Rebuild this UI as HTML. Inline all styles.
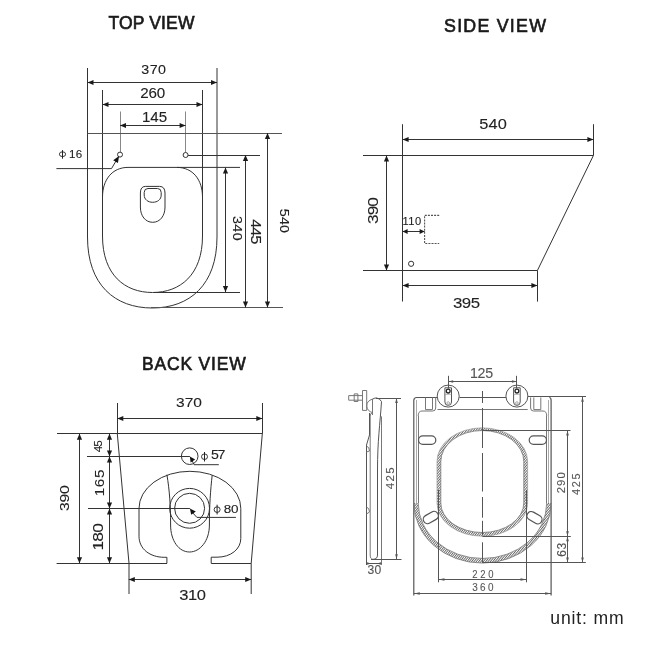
<!DOCTYPE html>
<html><head><meta charset="utf-8"><style>
html,body{margin:0;padding:0;background:#fff;}
svg{display:block;will-change:transform;}
</style></head><body>
<svg width="650" height="650" viewBox="0 0 650 650">
<rect width="650" height="650" fill="#fff"/>
<text transform="translate(151.5,28.8)" x="0" y="0" font-family="&quot;Liberation Sans&quot;, sans-serif" font-size="17.5" fill="#1a1a1a" stroke="#1a1a1a" stroke-width="0.65" text-anchor="middle" letter-spacing="0.15">TOP VIEW</text>
<path d="M87.5,68 L87.5,237 C87.5,285 115,308 152.25,308 C189.5,308 217,285 217,237 L217,68" stroke="#333" stroke-width="1" fill="none" />
<path d="M102.5,90 L102.5,236 C102.5,275 125,292.5 152.5,292.5 C180,292.5 202.5,275 202.5,236 L202.5,90" stroke="#333" stroke-width="1" fill="none" />
<path d="M102.5,197 C102.5,180 112,167.4 128,167.4 L240,167.4" stroke="#333" stroke-width="1" fill="none" />
<path d="M202.5,197 C202.5,180 193,167.4 177,167.4" stroke="#333" stroke-width="1" fill="none" />
<path d="M145.4,186.4 L159.6,186.4 Q165,186.4 165,193 L165,207 C165,216 160,222.3 152.7,222.3 C145.4,222.3 140.4,216 140.4,207 L140.4,193 Q140.4,186.4 145.4,186.4 Z" stroke="#333" stroke-width="1" fill="none" />
<path d="M148,188.5 L157.5,188.5 Q161.2,188.5 161.2,192.5 L161.2,195 C161.2,199.5 157.5,202.3 152.7,202.3 C148,202.3 144.2,199.5 144.2,195 L144.2,192.5 Q144.2,188.5 148,188.5 Z" stroke="#333" stroke-width="1" fill="none" />
<line x1="87.5" y1="82.5" x2="217" y2="82.5" stroke="#333" stroke-width="1" />
<polygon points="87.50,82.50 93.50,79.90 93.50,85.10" fill="#1a1a1a"/>
<polygon points="217.00,82.50 211.00,79.90 211.00,85.10" fill="#1a1a1a"/>
<text transform="translate(141.33,74.07) rotate(0) scale(1.1,1)" font-family="&quot;Liberation Sans&quot;, sans-serif" font-size="12.96" fill="#222" stroke="#222" stroke-width="0.1" letter-spacing="0.43">370</text>
<line x1="102.5" y1="104.5" x2="202.5" y2="104.5" stroke="#333" stroke-width="1" />
<polygon points="102.50,104.50 108.50,101.90 108.50,107.10" fill="#1a1a1a"/>
<polygon points="202.50,104.50 196.50,101.90 196.50,107.10" fill="#1a1a1a"/>
<text transform="translate(140.24,98.06) rotate(0) scale(1.1,1)" font-family="&quot;Liberation Sans&quot;, sans-serif" font-size="13.80" fill="#222" stroke="#222" stroke-width="0.1" letter-spacing="-0.18">260</text>
<line x1="120.5" y1="111.5" x2="120.5" y2="152" stroke="#888" stroke-width="1" />
<line x1="185.5" y1="111.5" x2="185.5" y2="152.5" stroke="#888" stroke-width="1" />
<line x1="120" y1="125.5" x2="185.6" y2="125.5" stroke="#333" stroke-width="1" />
<polygon points="120.00,125.50 126.00,122.90 126.00,128.10" fill="#1a1a1a"/>
<polygon points="185.60,125.50 179.60,122.90 179.60,128.10" fill="#1a1a1a"/>
<text transform="translate(141.89,121.86) rotate(0) scale(1.1,1)" font-family="&quot;Liberation Sans&quot;, sans-serif" font-size="13.71" fill="#222" stroke="#222" stroke-width="0.1" letter-spacing="0.01">145</text>
<circle cx="120" cy="154.6" r="2.5" fill="#fff" stroke="#333" stroke-width="1"/>
<circle cx="185.6" cy="155" r="2.5" fill="#fff" stroke="#333" stroke-width="1"/>
<line x1="188.1" y1="155.5" x2="260" y2="155.5" stroke="#333" stroke-width="1" />
<line x1="87.5" y1="133.5" x2="282" y2="133.5" stroke="#555" stroke-width="1" />
<path d="M56.4,168.6 L111.5,168.6 L116,161" stroke="#333" stroke-width="1" fill="none" />
<polygon points="119.1,156 113.2,160.3 117.9,162.9" fill="#111"/>
<ellipse cx="62.5" cy="154.2" rx="3.1" ry="2.4" fill="none" stroke="#222" stroke-width="0.9"/>
<line x1="62.5" y1="150.1" x2="62.5" y2="158.7" stroke="#222" stroke-width="1"/>
<text transform="translate(69.08,157.58) rotate(0)" font-family="&quot;Liberation Sans&quot;, sans-serif" font-size="11.55" fill="#222" stroke="#222" stroke-width="0.1" letter-spacing="0.27">16</text>
<line x1="154" y1="292.5" x2="240" y2="292.5" stroke="#333" stroke-width="1" />
<line x1="151" y1="307.5" x2="283" y2="307.5" stroke="#555" stroke-width="1" />
<line x1="225.5" y1="167.4" x2="225.5" y2="292" stroke="#333" stroke-width="1" />
<polygon points="225.50,167.40 222.90,173.40 228.10,173.40" fill="#1a1a1a"/>
<polygon points="225.50,292.00 222.90,286.00 228.10,286.00" fill="#1a1a1a"/>
<line x1="245.5" y1="155" x2="245.5" y2="307.5" stroke="#333" stroke-width="1" />
<polygon points="245.50,155.00 242.90,161.00 248.10,161.00" fill="#1a1a1a"/>
<polygon points="245.50,307.50 242.90,301.50 248.10,301.50" fill="#1a1a1a"/>
<line x1="267.5" y1="133" x2="267.5" y2="307.5" stroke="#333" stroke-width="1" />
<polygon points="267.50,133.00 264.90,139.00 270.10,139.00" fill="#1a1a1a"/>
<polygon points="267.50,307.50 264.90,301.50 270.10,301.50" fill="#1a1a1a"/>
<text transform="translate(232.53,215.93) rotate(90) scale(1.1,1)" font-family="&quot;Liberation Sans&quot;, sans-serif" font-size="12.96" fill="#222" stroke="#222" stroke-width="0.1" letter-spacing="0.43">340</text>
<text transform="translate(251.05,219.27) rotate(90) scale(1.1,1)" font-family="&quot;Liberation Sans&quot;, sans-serif" font-size="14.86" fill="#222" stroke="#222" stroke-width="0.1" letter-spacing="-0.96">445</text>
<text transform="translate(279.53,208.83) rotate(90) scale(1.1,1)" font-family="&quot;Liberation Sans&quot;, sans-serif" font-size="12.96" fill="#222" stroke="#222" stroke-width="0.1" letter-spacing="0.15">540</text>
<text transform="translate(495.6,31.6)" x="0" y="0" font-family="&quot;Liberation Sans&quot;, sans-serif" font-size="17.8" fill="#1a1a1a" stroke="#1a1a1a" stroke-width="0.65" text-anchor="middle" letter-spacing="1.25">SIDE VIEW</text>
<line x1="402.5" y1="124.2" x2="402.5" y2="301.5" stroke="#333" stroke-width="1" />
<line x1="593.5" y1="124.2" x2="593.5" y2="155.5" stroke="#333" stroke-width="1" />
<line x1="402.6" y1="139.5" x2="593.4" y2="139.5" stroke="#333" stroke-width="1" />
<polygon points="402.60,139.50 408.60,136.90 408.60,142.10" fill="#1a1a1a"/>
<polygon points="593.40,139.50 587.40,136.90 587.40,142.10" fill="#1a1a1a"/>
<text transform="translate(479.25,129.36) rotate(0) scale(1.15,1)" font-family="&quot;Liberation Sans&quot;, sans-serif" font-size="14.23" fill="#222" stroke="#222" stroke-width="0.1" letter-spacing="0.17">540</text>
<line x1="363" y1="155.5" x2="593.4" y2="155.5" stroke="#333" stroke-width="1" />
<line x1="593.4" y1="155.5" x2="537.4" y2="270.5" stroke="#333" stroke-width="1" />
<line x1="363" y1="270.5" x2="537.4" y2="270.5" stroke="#333" stroke-width="1" />
<line x1="537.5" y1="270.5" x2="537.5" y2="301.6" stroke="#333" stroke-width="1" />
<line x1="402.6" y1="285.5" x2="537.4" y2="285.5" stroke="#333" stroke-width="1" />
<polygon points="402.60,285.50 408.60,282.90 408.60,288.10" fill="#1a1a1a"/>
<polygon points="537.40,285.50 531.40,282.90 531.40,288.10" fill="#1a1a1a"/>
<text transform="translate(452.93,308.05) rotate(0) scale(1.15,1)" font-family="&quot;Liberation Sans&quot;, sans-serif" font-size="14.65" fill="#222" stroke="#222" stroke-width="0.1" letter-spacing="-0.43">395</text>
<line x1="386.5" y1="155.5" x2="386.5" y2="270.5" stroke="#333" stroke-width="1" />
<polygon points="386.50,155.50 383.90,161.50 389.10,161.50" fill="#1a1a1a"/>
<polygon points="386.50,270.50 383.90,264.50 389.10,264.50" fill="#1a1a1a"/>
<text transform="translate(377.65,223.89) rotate(-90) scale(1.15,1)" font-family="&quot;Liberation Sans&quot;, sans-serif" font-size="15.07" fill="#222" stroke="#222" stroke-width="0.1" letter-spacing="-0.89">390</text>
<circle cx="411.1" cy="263.8" r="2.6" fill="none" stroke="#333" stroke-width="1"/>
<path d="M439.2,215.4 L424.6,215.4 L424.6,243.5 L439.2,243.5" stroke="#555" stroke-width="1.1" fill="none" stroke-dasharray="2 1.1"/>
<line x1="402.6" y1="231.5" x2="424.6" y2="231.5" stroke="#333" stroke-width="1" />
<polygon points="402.60,231.50 407.60,229.10 407.60,233.90" fill="#1a1a1a"/>
<polygon points="424.60,231.50 419.60,229.10 419.60,233.90" fill="#1a1a1a"/>
<text transform="translate(402.41,225.09) rotate(0)" font-family="&quot;Liberation Sans&quot;, sans-serif" font-size="11.13" fill="#222" stroke="#222" stroke-width="0.1" letter-spacing="0.47">110</text>
<text transform="translate(194.3,369.6)" x="0" y="0" font-family="&quot;Liberation Sans&quot;, sans-serif" font-size="17.5" fill="#1a1a1a" stroke="#1a1a1a" stroke-width="0.65" text-anchor="middle" letter-spacing="0.8">BACK VIEW</text>
<line x1="117.5" y1="403" x2="117.5" y2="433.8" stroke="#333" stroke-width="1" />
<line x1="262.5" y1="403" x2="262.5" y2="433.8" stroke="#333" stroke-width="1" />
<line x1="117.3" y1="418.5" x2="262.3" y2="418.5" stroke="#333" stroke-width="1" />
<polygon points="117.30,418.50 123.30,415.90 123.30,421.10" fill="#1a1a1a"/>
<polygon points="262.30,418.50 256.30,415.90 256.30,421.10" fill="#1a1a1a"/>
<text transform="translate(175.98,407.06) rotate(0) scale(1.15,1)" font-family="&quot;Liberation Sans&quot;, sans-serif" font-size="13.52" fill="#222" stroke="#222" stroke-width="0.1" letter-spacing="0.03">370</text>
<line x1="57" y1="433.5" x2="262.3" y2="433.5" stroke="#333" stroke-width="1" />
<path d="M117.3,433.8 L129,563.3 L129,594" stroke="#333" stroke-width="1" fill="none" />
<path d="M262.3,433.8 L251.2,563.3 L251.2,594" stroke="#333" stroke-width="1" fill="none" />
<line x1="56.6" y1="563.5" x2="167" y2="563.5" stroke="#333" stroke-width="1" />
<line x1="211.2" y1="563.5" x2="251.2" y2="563.5" stroke="#333" stroke-width="1" />
<line x1="79.5" y1="433.8" x2="79.5" y2="563.3" stroke="#333" stroke-width="1" />
<polygon points="79.50,433.80 76.90,439.80 82.10,439.80" fill="#1a1a1a"/>
<polygon points="79.50,563.30 76.90,557.30 82.10,557.30" fill="#1a1a1a"/>
<text transform="translate(69.16,511.03) rotate(-90) scale(1.15,1)" font-family="&quot;Liberation Sans&quot;, sans-serif" font-size="13.66" fill="#222" stroke="#222" stroke-width="0.1" letter-spacing="-0.21">390</text>
<line x1="109.5" y1="433.8" x2="109.5" y2="563.3" stroke="#333" stroke-width="1" />
<polygon points="109.50,433.80 106.90,439.80 112.10,439.80" fill="#1a1a1a"/>
<polygon points="109.50,456.40 106.90,450.40 112.10,450.40" fill="#1a1a1a"/>
<polygon points="109.50,456.40 106.90,462.40 112.10,462.40" fill="#1a1a1a"/>
<polygon points="109.50,508.40 106.90,502.40 112.10,502.40" fill="#1a1a1a"/>
<polygon points="109.50,508.40 106.90,514.40 112.10,514.40" fill="#1a1a1a"/>
<polygon points="109.50,563.30 106.90,557.30 112.10,557.30" fill="#1a1a1a"/>
<line x1="87" y1="456.5" x2="189.9" y2="456.5" stroke="#333" stroke-width="1" />
<line x1="88" y1="508.5" x2="189.9" y2="508.5" stroke="#333" stroke-width="1" />
<text transform="translate(102.48,452.23) rotate(-90)" font-family="&quot;Liberation Sans&quot;, sans-serif" font-size="11.71" fill="#222" stroke="#222" stroke-width="0.1" letter-spacing="-1.00">45</text>
<text transform="translate(103.67,496.22) rotate(-90) scale(1.15,1)" font-family="&quot;Liberation Sans&quot;, sans-serif" font-size="13.24" fill="#222" stroke="#222" stroke-width="0.1" letter-spacing="0.52">165</text>
<text transform="translate(103.35,550.59) rotate(-90) scale(1.15,1)" font-family="&quot;Liberation Sans&quot;, sans-serif" font-size="15.07" fill="#222" stroke="#222" stroke-width="0.1" letter-spacing="-0.59">180</text>
<line x1="128.8" y1="579.5" x2="251.2" y2="579.5" stroke="#333" stroke-width="1" />
<polygon points="128.80,579.50 134.80,576.90 134.80,582.10" fill="#1a1a1a"/>
<polygon points="251.20,579.50 245.20,576.90 245.20,582.10" fill="#1a1a1a"/>
<text transform="translate(179.34,600.46) rotate(0) scale(1.15,1)" font-family="&quot;Liberation Sans&quot;, sans-serif" font-size="14.37" fill="#222" stroke="#222" stroke-width="0.1" letter-spacing="-0.38">310</text>
<circle cx="189.7" cy="456.2" r="8.3" fill="none" stroke="#333" stroke-width="1"/>
<path d="M194,464.7 L218.8,464.7" stroke="#333" stroke-width="1" fill="none" />
<line x1="191" y1="458" x2="194" y2="464.7" stroke="#333" stroke-width="1" />
<polygon points="189.9,456.4 190.6,462.6 195.2,459.6" fill="#111"/>
<ellipse cx="204.5" cy="456.7" rx="3.0" ry="2.8" fill="none" stroke="#222" stroke-width="0.9"/>
<line x1="204.5" y1="452" x2="204.5" y2="461.5" stroke="#222" stroke-width="1"/>
<text transform="translate(211.03,459.48) rotate(0) scale(1.15,1)" font-family="&quot;Liberation Sans&quot;, sans-serif" font-size="12.29" fill="#222" stroke="#222" stroke-width="0.1" letter-spacing="-1.23">57</text>
<path d="M166.9,563.3 L166.9,557.3 L164.2,557.3 C150,557.3 139,549 139,536.2 L139,508.4 A50.9,37.1 0 0 1 240.8,508.4 L240.8,538.5 C240.8,549 231,557.2 217,557.2 L211.2,557.2 L211.2,563.3" stroke="#333" stroke-width="1" fill="none" />
<path d="M166.9,474.7 C169.5,490 170.6,505 170.6,525 C170.6,541 179,552 189.5,552 C200,552 209.4,541 209.4,525 C209.4,505 210.5,490 212.2,475.2" stroke="#333" stroke-width="1" fill="none" />
<circle cx="189.6" cy="508.3" r="19.9" fill="none" stroke="#333" stroke-width="1"/>
<circle cx="189.6" cy="508.3" r="15" fill="none" stroke="#333" stroke-width="1"/>
<path d="M196.9,517.4 L235.9,517.4" stroke="#333" stroke-width="1" fill="none" />
<line x1="192" y1="512" x2="196.9" y2="517.4" stroke="#333" stroke-width="1" />
<polygon points="189.9,508.4 191.2,514.8 195.8,511.4" fill="#111"/>
<ellipse cx="217.1" cy="509.6" rx="3.0" ry="2.8" fill="none" stroke="#222" stroke-width="0.9"/>
<line x1="217.1" y1="504.7" x2="217.1" y2="514.4" stroke="#222" stroke-width="1"/>
<text transform="translate(223.66,512.88) rotate(0) scale(1.15,1)" font-family="&quot;Liberation Sans&quot;, sans-serif" font-size="11.69" fill="#222" stroke="#222" stroke-width="0.1" letter-spacing="-0.21">80</text>
<path d="M348.7,395.6 H362.5 V400.2 H348.7 Z" stroke="#777" stroke-width="1" fill="none" />
<path d="M354.2,393.9 H357.9 V401.5 H354.2 Z" stroke="#777" stroke-width="1" fill="none" />
<path d="M362.5,390.5 H366.7 V410.4 H362.5 Z" stroke="#777" stroke-width="1" fill="none" />
<path d="M372.7,399 Q366.5,401 366.7,406 Q367,411 372.7,412.7" stroke="#777" stroke-width="1" fill="none" />
<path d="M372.7,399 Q375,397.9 376.5,397.9 Q380,398.5 381.5,401.6 C380,425 377.5,440 377.5,470 L377.5,555 Q377.5,559.3 373,559.3" stroke="#555" stroke-width="1" fill="none" />
<line x1="372.5" y1="399" x2="372.5" y2="415" stroke="#777" stroke-width="1" />
<path d="M372.7,412.7 Q370.2,413 370.2,416 L370.2,555 Q370.2,559.3 373,559.3" stroke="#777" stroke-width="1" fill="none" />
<path d="M369.5,413 L369.5,435 L366.5,445 L366.5,565" stroke="#555" stroke-width="1" fill="none" />
<path d="M366.5,446 Q369.5,447 369.5,451 L366.5,452" stroke="#777" stroke-width="1" fill="none" />
<path d="M366.5,507 Q369.5,508 369.5,512 L366.5,514" stroke="#777" stroke-width="1" fill="none" />
<line x1="381.5" y1="416.4" x2="381.5" y2="565" stroke="#777" stroke-width="1" />
<line x1="376" y1="398.5" x2="401" y2="398.5" stroke="#555" stroke-width="1" />
<line x1="371" y1="559.5" x2="401.5" y2="559.5" stroke="#555" stroke-width="1" />
<line x1="396.5" y1="398" x2="396.5" y2="559.3" stroke="#555" stroke-width="1" />
<polygon points="396.50,398.00 395.20,403.00 397.80,403.00" fill="#555"/>
<polygon points="396.50,559.30 395.20,554.30 397.80,554.30" fill="#555"/>
<text transform="translate(394.18,489.13) rotate(-90)" font-family="&quot;Liberation Sans&quot;, sans-serif" font-size="11.55" fill="#555" stroke="#555" stroke-width="0.1" letter-spacing="1.30">425</text>
<line x1="366.5" y1="563.5" x2="381.5" y2="563.5" stroke="#555" stroke-width="1" />
<polygon points="371.00,563.50 367.00,562.30 367.00,564.70" fill="#555"/>
<polygon points="377.00,563.50 381.00,562.30 381.00,564.70" fill="#555"/>
<text transform="translate(367.52,574.48) rotate(0)" font-family="&quot;Liberation Sans&quot;, sans-serif" font-size="12.11" fill="#555" stroke="#555" stroke-width="0.1" letter-spacing="0.32">30</text>
<defs><pattern id="hatch" width="1.8" height="1.8" patternUnits="userSpaceOnUse" patternTransform="rotate(40)"><rect width="0.9" height="1.8" fill="#666"/></pattern></defs>
<path d="M413.8,595.4 L413.8,400.5 Q413.8,397.5 416.8,397.5 L437.2,397.5 M459.4,397.5 L527.7,397.5 M549.3,397.5 Q551.1,397.5 551.1,400.5 L551.1,595.4" stroke="#555" stroke-width="1.2" fill="none" />
<line x1="416.5" y1="400" x2="416.5" y2="503" stroke="#aaa" stroke-width="1" />
<line x1="418.5" y1="416" x2="418.5" y2="503" stroke="#777" stroke-width="1" />
<line x1="548.5" y1="400" x2="548.5" y2="503" stroke="#aaa" stroke-width="1" />
<line x1="546.5" y1="416" x2="546.5" y2="503" stroke="#777" stroke-width="1" />
<path d="M413.8,503 A68.65,60.1 0 0 0 551.1,503 L546.7,503 A64.25,55.5 0 0 1 418.2,503 Z" stroke="none" stroke-width="1" fill="url(#hatch)" />
<path d="M413.8,503 A68.65,60.1 0 0 0 551.1,503" stroke="#777" stroke-width="0.8" fill="none" />
<path d="M418.2,503 A64.25,55.5 0 0 0 546.7,503" stroke="#777" stroke-width="0.8" fill="none" />
<path d="M425.5,397.5 V409.6 H432.5 V397.5" stroke="#777" stroke-width="1" fill="none" />
<path d="M435.7,397.5 V408 Q435.7,411 432.7,411 H422 Q418.2,411 418.2,416" stroke="#777" stroke-width="1" fill="none" />
<path d="M540.8,397.5 V409.6 H533.8 V397.5" stroke="#777" stroke-width="1" fill="none" />
<path d="M530.6,397.5 V408 Q530.6,411 533.6,411 H543 Q546.7,411 546.7,416" stroke="#777" stroke-width="1" fill="none" />
<line x1="437.5" y1="409.5" x2="527.7" y2="409.5" stroke="#777" stroke-width="1" />
<circle cx="448.2" cy="396.1" r="11" fill="#fff" stroke="#555" stroke-width="1"/>
<path d="M444.9,387.8 H451.5 V402 Q451.5,405.4 448.2,405.4 Q444.9,405.4 444.9,402 Z" stroke="#555" stroke-width="1" fill="none" />
<line x1="444.9" y1="394.5" x2="451.5" y2="394.5" stroke="#999" stroke-width="0.6" />
<circle cx="448.2" cy="391.1" r="1.9" fill="none" stroke="#222" stroke-width="1.3"/>
<circle cx="448.2" cy="403" r="1.3" fill="none" stroke="#888" stroke-width="0.7"/>
<line x1="448.5" y1="375.8" x2="448.5" y2="388.5" stroke="#555" stroke-width="1" />
<circle cx="516.9" cy="396.1" r="11" fill="#fff" stroke="#555" stroke-width="1"/>
<path d="M513.6,387.8 H520.1999999999999 V402 Q520.1999999999999,405.4 516.9,405.4 Q513.6,405.4 513.6,402 Z" stroke="#555" stroke-width="1" fill="none" />
<line x1="513.6" y1="394.5" x2="520.1999999999999" y2="394.5" stroke="#999" stroke-width="0.6" />
<circle cx="516.9" cy="391.1" r="1.9" fill="none" stroke="#222" stroke-width="1.3"/>
<circle cx="516.9" cy="403" r="1.3" fill="none" stroke="#888" stroke-width="0.7"/>
<line x1="516.5" y1="375.8" x2="516.5" y2="388.5" stroke="#555" stroke-width="1" />
<line x1="448.2" y1="381.5" x2="516.9" y2="381.5" stroke="#555" stroke-width="1" />
<polygon points="448.20,381.50 453.20,380.20 453.20,382.80" fill="#555"/>
<polygon points="516.90,381.50 511.90,380.20 511.90,382.80" fill="#555"/>
<text transform="translate(469.96,378.06) rotate(0)" font-family="&quot;Liberation Sans&quot;, sans-serif" font-size="14.23" fill="#555" stroke="#555" stroke-width="0.1" letter-spacing="-0.32">125</text>
<rect x="418.5" y="435.8" width="17.3" height="8.6" rx="4.3" fill="none" stroke="#555" stroke-width="1.2"/>
<rect x="529.2" y="435.8" width="17.3" height="8.6" rx="4.3" fill="none" stroke="#555" stroke-width="1.2"/>
<rect x="-8" y="-4.3" width="16" height="8.6" rx="4.3" fill="#fff" stroke="#555" stroke-width="1.2" transform="translate(430.8,517.5) rotate(-30)"/>
<rect x="-8" y="-4.3" width="16" height="8.6" rx="4.3" fill="#fff" stroke="#555" stroke-width="1.2" transform="translate(534.5,517.7) rotate(30)"/>
<path d="M437,461.5 A45.3,33.7 0 0 1 527.6,461.5 L527.6,503 A45.3,33.2 0 0 1 437,503 Z M440.8,461.5 A41.5,31 0 0 1 523.8,461.5 L523.8,503 A41.5,29.5 0 0 1 440.8,503 Z" stroke="none" stroke-width="1" fill="url(#hatch)" fill-rule="evenodd"/>
<path d="M440.8,461.5 A41.5,31 0 0 1 523.8,461.5 L523.8,503 A41.5,29.5 0 0 1 440.8,503 Z" stroke="#777" stroke-width="0.8" fill="none" />
<path d="M437,461.5 A45.3,33.7 0 0 1 527.6,461.5 L527.6,503 A45.3,33.2 0 0 1 437,503 Z" stroke="#999" stroke-width="0.7" fill="none" />
<line x1="482.5" y1="391" x2="482.5" y2="566" stroke="#555" stroke-width="1" stroke-dasharray="12 5 40 5 38.5 5.5 20.7 3.1 14.6 6.9 20 10"/>
<line x1="527.7" y1="396.5" x2="586" y2="396.5" stroke="#555" stroke-width="1" />
<line x1="482.4" y1="430.5" x2="570.5" y2="430.5" stroke="#555" stroke-width="1" />
<line x1="482.4" y1="536.5" x2="570.8" y2="536.5" stroke="#555" stroke-width="1" />
<line x1="482.4" y1="562.5" x2="585.8" y2="562.5" stroke="#555" stroke-width="1" />
<line x1="567.5" y1="430.4" x2="567.5" y2="562.4" stroke="#555" stroke-width="1" />
<polygon points="567.50,430.40 566.20,435.40 568.80,435.40" fill="#555"/>
<polygon points="567.50,536.20 566.20,531.20 568.80,531.20" fill="#555"/>
<polygon points="567.50,536.20 566.20,541.20 568.80,541.20" fill="#555"/>
<polygon points="567.50,562.40 566.20,557.40 568.80,557.40" fill="#555"/>
<line x1="582.5" y1="396.8" x2="582.5" y2="562.4" stroke="#555" stroke-width="1" />
<polygon points="582.50,396.80 581.20,401.80 583.80,401.80" fill="#555"/>
<polygon points="582.50,562.40 581.20,557.40 583.80,557.40" fill="#555"/>
<text transform="translate(565.09,493.36) rotate(-90)" font-family="&quot;Liberation Sans&quot;, sans-serif" font-size="11.27" fill="#555" stroke="#555" stroke-width="0.1" letter-spacing="1.15">290</text>
<text transform="translate(579.89,494.92) rotate(-90)" font-family="&quot;Liberation Sans&quot;, sans-serif" font-size="10.85" fill="#555" stroke="#555" stroke-width="0.1" letter-spacing="1.72">425</text>
<text transform="translate(565.58,556.70) rotate(-90)" font-family="&quot;Liberation Sans&quot;, sans-serif" font-size="11.97" fill="#555" stroke="#555" stroke-width="0.1" letter-spacing="0.59">63</text>
<line x1="438.5" y1="490" x2="438.5" y2="582.3" stroke="#555" stroke-width="1" />
<line x1="526.5" y1="490" x2="526.5" y2="582.3" stroke="#555" stroke-width="1" />
<line x1="438.5" y1="579.5" x2="526.5" y2="579.5" stroke="#555" stroke-width="1" />
<polygon points="438.50,579.50 444.50,578.20 444.50,580.80" fill="#555"/>
<polygon points="526.50,579.50 520.50,578.20 520.50,580.80" fill="#555"/>
<text transform="translate(472.23,577.59) rotate(0) scale(0.85,1)" font-family="&quot;Liberation Sans&quot;, sans-serif" font-size="11.13" fill="#555" stroke="#555" stroke-width="0.1" letter-spacing="3.21">220</text>
<line x1="413.8" y1="593.5" x2="551.1" y2="593.5" stroke="#555" stroke-width="1" />
<polygon points="413.80,593.50 419.80,592.20 419.80,594.80" fill="#555"/>
<polygon points="551.10,593.50 545.10,592.20 545.10,594.80" fill="#555"/>
<text transform="translate(472.30,591.38) rotate(0) scale(0.85,1)" font-family="&quot;Liberation Sans&quot;, sans-serif" font-size="11.69" fill="#555" stroke="#555" stroke-width="0.1" letter-spacing="2.71">360</text>
<text transform="translate(550.3,624.2)" x="0" y="0" font-family="&quot;Liberation Sans&quot;, sans-serif" font-size="17.6" font-weight="normal" fill="#222" text-anchor="start" letter-spacing="0.85">unit: mm</text>
</svg>
</body></html>
